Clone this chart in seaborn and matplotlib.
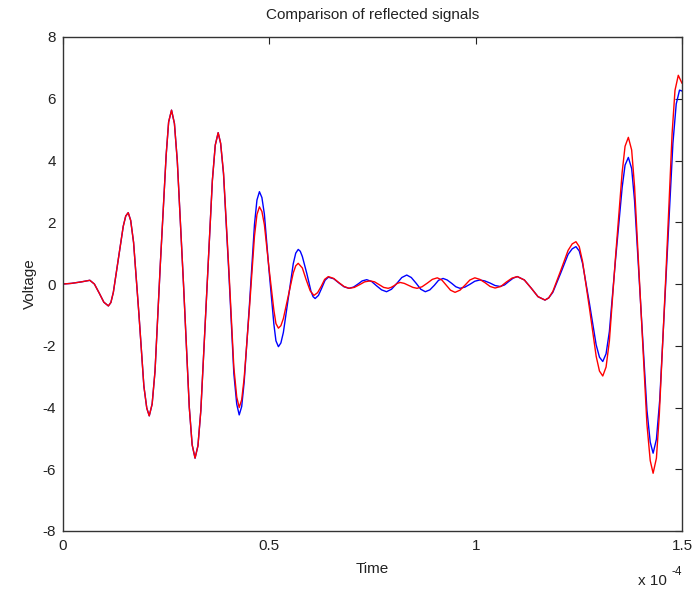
import numpy as np
import pandas as pd
import matplotlib
matplotlib.use("Agg")
import matplotlib.pyplot as plt
import seaborn as sns

# Time in units of 1e-4 s (both signals coincide up to t = 0.376)
t_common = [0.000, 0.020, 0.045, 0.065, 0.076, 0.088, 0.099, 0.110,
            0.116, 0.122, 0.134, 0.146, 0.152, 0.158,
            0.164, 0.171, 0.184, 0.196, 0.203, 0.209,
            0.216, 0.223, 0.236, 0.250, 0.256, 0.263,
            0.270, 0.277, 0.292, 0.306, 0.313, 0.320,
            0.327, 0.334, 0.348, 0.362, 0.369, 0.376]
v_common = [0.00, 0.02, 0.07, 0.12, 0.00, -0.30, -0.59, -0.71,
            -0.60, -0.27, 0.80, 1.87, 2.20, 2.31,
            2.06, 1.35, -0.98, -3.31, -4.02, -4.27,
            -3.89, -2.82, 0.68, 4.18, 5.25, 5.63,
            5.20, 3.98, 0.00, -3.99, -5.21, -5.64,
            -5.24, -4.10, -0.37, 3.36, 4.50, 4.90]

t_red = [0.382, 0.389, 0.402, 0.414, 0.421, 0.427,
         0.433, 0.439, 0.452, 0.464, 0.470, 0.476,
         0.482, 0.488, 0.499, 0.511, 0.516, 0.522,
         0.528, 0.534, 0.546, 0.558, 0.564, 0.570,
         0.580, 0.589, 0.599, 0.608, 0.617, 0.626, 0.634, 0.643,
         0.656, 0.668, 0.681, 0.693, 0.706, 0.719, 0.731, 0.744,
         0.755, 0.766, 0.777, 0.788, 0.795, 0.803, 0.810, 0.817,
         0.827, 0.838, 0.848, 0.858, 0.870, 0.883, 0.895, 0.907,
         0.918, 0.929, 0.939, 0.950, 0.962, 0.974, 0.986, 0.998,
         1.010, 1.023, 1.035, 1.047, 1.061, 1.074, 1.088, 1.101,
         1.118, 1.135, 1.151, 1.168,
         1.177, 1.187, 1.206, 1.224, 1.234, 1.243,
         1.251, 1.259, 1.276, 1.292, 1.300, 1.308,
         1.316, 1.324, 1.339, 1.355, 1.362, 1.370,
         1.378, 1.385, 1.400, 1.415, 1.423, 1.430,
         1.438, 1.445, 1.461, 1.476, 1.483, 1.491, 1.500]
v_red = [4.56, 3.60, 0.45, -2.70, -3.66, -4.00,
         -3.75, -3.05, -0.75, 1.55, 2.25, 2.50,
         2.35, 1.92, 0.54, -0.85, -1.28, -1.43,
         -1.35, -1.12, -0.38, 0.36, 0.59, 0.67,
         0.52, 0.15, -0.22, -0.37, -0.28, -0.07, 0.15, 0.24,
         0.18, 0.05, -0.08, -0.14, -0.11, -0.02, 0.07, 0.10,
         0.07, -0.02, -0.11, -0.14, -0.11, -0.05, 0.02, 0.05,
         0.02, -0.05, -0.11, -0.14, -0.09, 0.03, 0.15, 0.20,
         0.13, -0.04, -0.20, -0.27, -0.20, -0.04, 0.13, 0.20,
         0.15, 0.04, -0.08, -0.13, -0.08, 0.06, 0.19, 0.24,
         0.13, -0.14, -0.41, -0.52,
         -0.45, -0.24, 0.43, 1.09, 1.30, 1.37,
         1.21, 0.73, -0.81, -2.34, -2.82, -2.98,
         -2.69, -1.85, 0.89, 3.62, 4.46, 4.75,
         4.34, 3.16, -0.69, -4.54, -5.72, -6.13,
         -5.64, -4.24, 0.32, 4.87, 6.27, 6.76, 6.50]

t_blue = [0.382, 0.389, 0.402, 0.414, 0.421, 0.427,
          0.433, 0.439, 0.452, 0.464, 0.470, 0.476,
          0.482, 0.488, 0.499, 0.511, 0.516, 0.522,
          0.528, 0.534, 0.546, 0.558, 0.564, 0.570,
          0.575, 0.580, 0.591, 0.601, 0.606, 0.611,
          0.619, 0.627, 0.635, 0.643, 0.656, 0.668, 0.681, 0.693,
          0.704, 0.715, 0.725, 0.736, 0.748, 0.760, 0.772, 0.784,
          0.796, 0.809, 0.821, 0.833, 0.844, 0.856, 0.867, 0.878,
          0.889, 0.900, 0.910, 0.921, 0.931, 0.942, 0.952, 0.962,
          0.974, 0.986, 0.998, 1.010, 1.022, 1.035, 1.047, 1.059,
          1.070, 1.080, 1.091, 1.101, 1.118, 1.135, 1.151, 1.168,
          1.177, 1.187, 1.206, 1.224, 1.234, 1.243,
          1.251, 1.259, 1.276, 1.292, 1.300, 1.308,
          1.316, 1.324, 1.339, 1.355, 1.362, 1.370,
          1.378, 1.385, 1.400, 1.415, 1.423, 1.430,
          1.438, 1.446, 1.462, 1.478, 1.486, 1.494, 1.500]
v_blue = [4.55, 3.56, 0.33, -2.90, -3.89, -4.24,
          -3.97, -3.18, -0.63, 1.93, 2.72, 2.99,
          2.80, 2.26, 0.48, -1.30, -1.84, -2.03,
          -1.91, -1.57, -0.46, 0.66, 1.00, 1.12,
          1.06, 0.89, 0.33, -0.24, -0.41, -0.47,
          -0.37, -0.13, 0.12, 0.22, 0.17, 0.04, -0.09, -0.14,
          -0.10, 0.00, 0.10, 0.14, 0.08, -0.06, -0.19, -0.25,
          -0.17, 0.02, 0.21, 0.29, 0.21, 0.02, -0.17, -0.25,
          -0.19, -0.04, 0.12, 0.18, 0.13, 0.02, -0.09, -0.14,
          -0.10, -0.01, 0.09, 0.13, 0.10, 0.03, -0.05, -0.08,
          -0.03, 0.08, 0.19, 0.24, 0.13, -0.14, -0.41, -0.52,
          -0.45, -0.27, 0.35, 0.96, 1.14, 1.21,
          1.07, 0.67, -0.65, -1.97, -2.37, -2.51,
          -2.26, -1.54, 0.80, 3.13, 3.85, 4.10,
          3.74, 2.70, -0.69, -4.08, -5.12, -5.48,
          -5.03, -3.76, 0.40, 4.56, 5.83, 6.28, 6.25]

x_ticks = [0, 0.5, 1, 1.5]
x_tick_labels = ["0", "0.5", "1", "1.5"]
y_ticks = [-8, -6, -4, -2, 0, 2, 4, 6, 8]
y_tick_labels = ["-8", "-6", "-4", "-2", "0", "2", "4", "6", "8"]

df = pd.concat([
    pd.DataFrame({"time": t_common + t_blue, "voltage": v_common + v_blue, "signal": "measured"}),
    pd.DataFrame({"time": t_common + t_red, "voltage": v_common + v_red, "signal": "simulated"}),
], ignore_index=True)

sns.set_theme(style="white")
plt.rcParams["font.family"] = ["Liberation Sans", "DejaVu Sans"]

fig = plt.figure(figsize=(6.95, 5.94), dpi=100)
ax = fig.add_axes([63 / 695, 1 - 531 / 594, (682 - 63) / 695, (531 - 37) / 594])

sns.lineplot(data=df, x="time", y="voltage", hue="signal", units="signal",
             hue_order=["measured", "simulated"],
             palette=["#0000ff", "#ff0000"], estimator=None, sort=False,
             linewidth=1.0, legend=False, ax=ax)

ax.set_xlim(0, 1.5)
ax.set_ylim(-8, 8)
ax.set_xticks(x_ticks)
ax.set_xticklabels(x_tick_labels)
ax.set_yticks(y_ticks)
ax.set_yticklabels(y_tick_labels)
ax.tick_params(direction="in", length=5, width=0.8, color="#222222",
               top=True, right=True, labelsize=11, labelcolor="#222222")
ax.tick_params(axis="x", pad=6)
ax.tick_params(axis="y", pad=5)
for s in ax.spines.values():
    s.set_color("#333333")
    s.set_linewidth(1.0)
    s.set_visible(True)

ax.set_xlabel("Time", fontsize=11, color="#222222", labelpad=6)
ax.set_ylabel("Voltage", fontsize=11, color="#222222", labelpad=4)
ax.set_title("Comparison of reflected signals", fontsize=11, color="#222222", pad=13)

fig.text(638 / 695, 1 - 581 / 594, "x 10", fontsize=11, color="#222222", va="center", ha="left")
fig.text(671 / 695, 1 - 572 / 594, "-4", fontsize=8.5, color="#222222", va="center", ha="left")

fig.savefig("out.png", dpi=100, facecolor="white")
